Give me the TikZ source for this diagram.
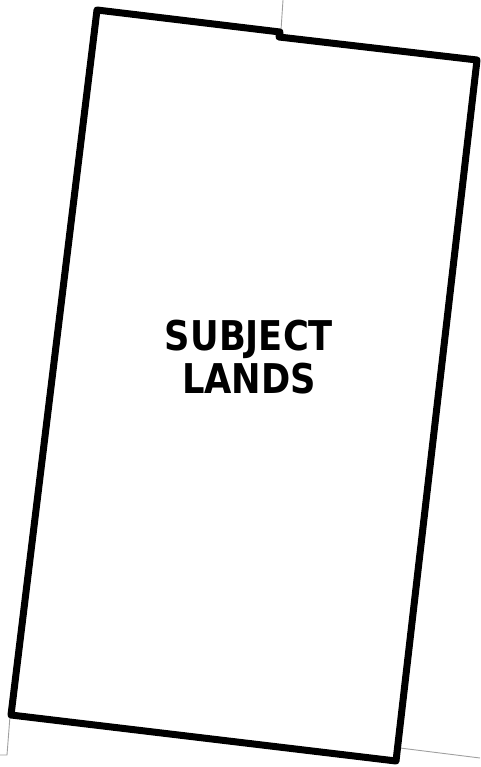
\documentclass[tikz,border=0pt]{standalone}
\usepackage{fontspec}
\newfontfamily\lblfont{DejaVu Sans}
\tikzset{
  boundary/.style={line width=7pt, line join=round, line cap=round, black},
  thin/.style={line width=0.9pt, gray!75},
  lbl/.style={font=\lblfont\bfseries\fontsize{41}{43}\selectfont, align=center, xscale=0.86, inner sep=0pt}
}
\begin{document}
\begin{tikzpicture}[x=1pt,y=-1pt]
\useasboundingbox (0,0) rectangle (480,767);
\coordinate (a) at (97,10);
\coordinate (b) at (280,32);
\coordinate (c) at (279,37);
\coordinate (d) at (477,60);
\coordinate (e) at (396,761);
\coordinate (f) at (11,715);
\draw[thin] (283,0) -- (281,30);
\draw[thin] (10,716) -- (7,755) -- (0,755);
\draw[thin] (400,748) -- (480,758);
\draw[boundary] (a) -- (b) -- (c) -- (d) -- (e) -- (f) -- cycle;
\node[lbl] (t) at (249,357) {SUBJECT\\LANDS};
\end{tikzpicture}
\end{document}
